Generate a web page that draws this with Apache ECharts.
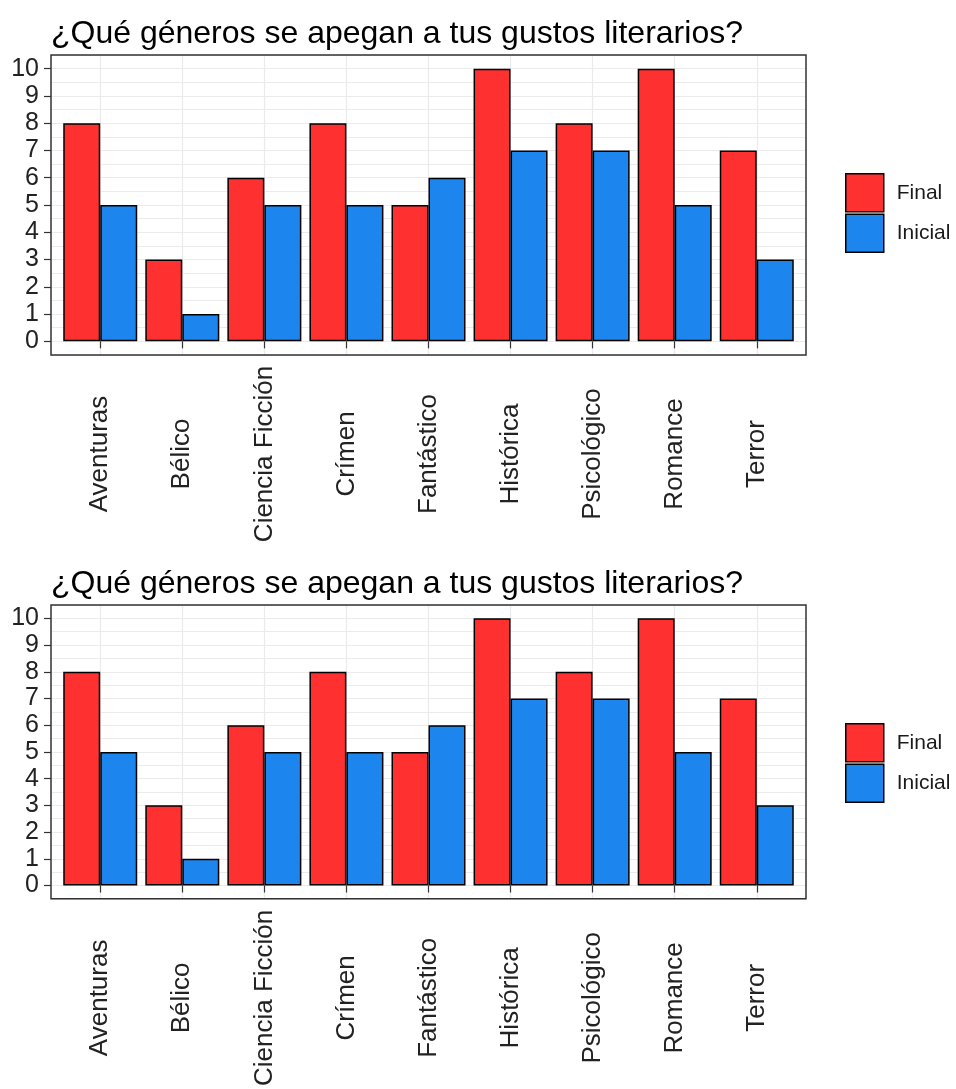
<!DOCTYPE html>
<html>
<head>
<meta charset="utf-8">
<script src="https://cdn.jsdelivr.net/npm/echarts@6/dist/echarts.min.js"></script>
<style>
html,body{margin:0;padding:0;background:#fff;}
#c{width:956px;height:1089px;}
</style>
</head>
<body>
<div id="c"></div>
<script>
// ---- data ----
const titleText = '¿Qué géneros se apegan a tus gustos literarios?';
const categories = ['Aventuras','Bélico','Ciencia Ficción','Crímen','Fantástico','Histórica','Psicológico','Romance','Terror'];
const finalValues = [8,3,6,8,5,10,8,10,7];
const inicialValues = [5,1,5,5,6,7,7,5,3];
const yTicks = [0,1,2,3,4,5,6,7,8,9,10];
const seriesNames = ['Final','Inicial'];

const FONT = 'Liberation Sans, Arial, sans-serif';
const RED = '#FF3030', BLUE = '#1C86EE';
const catIdx = categories.map((c,i)=>i);

const chart = echarts.init(document.getElementById('c'), null, {renderer:'canvas'});

const panelTops = [55, 605];
const grids = [], xAxes = [], yAxes = [], series = [], titles = [], legends = [];

panelTops.forEach((top, p) => {
  grids.push({left:51, top:top, width:755, height:300, show:true, z:10, borderColor:'#333333', borderWidth:1.5, backgroundColor:'transparent', containLabel:false});
  titles.push({text:titleText, left:51, top:top-37, padding:0,
    textStyle:{fontFamily:FONT, fontSize:32, fontWeight:'normal', color:'#000'}});
  legends.push({orient:'vertical', left:845, top:top+118, padding:0, itemWidth:38, itemHeight:38, itemGap:1,
    icon:'rect', data:seriesNames,
    itemStyle:{borderColor:'#000', borderWidth:1.5},
    textStyle:{fontFamily:FONT, fontSize:21, color:'#1a1a1a', padding:[0,0,0,8]}});
  xAxes.push({type:'value', gridIndex:p, min:-0.6, max:8.6, splitNumber:9, minInterval:1, maxInterval:1,
    axisLine:{show:false},
    axisTick:{show:true, length:7, customValues:catIdx, lineStyle:{color:'#333', width:1.2}},
    splitLine:{show:true, lineStyle:{color:'#EBEBEB', width:1.2}},
    axisLabel:{show:true, customValues:catIdx, rotate:90, align:'center', verticalAlign:'middle', margin:99,
      fontFamily:FONT, fontSize:26, color:'#222',
      formatter:(v)=> (Number.isInteger(v) && categories[v]!==undefined) ? categories[v] : ''}});
  // gridline axis (every 0.5)
  yAxes.push({type:'value', gridIndex:p, min:-0.5, max:10.5, interval:0.5, position:'left',
    axisLine:{show:false}, axisTick:{show:false}, axisLabel:{show:false},
    splitLine:{show:true, lineStyle:{color:'#EBEBEB', width:1.2}}});
  // label axis
  yAxes.push({type:'value', gridIndex:p, min:-0.5, max:10.5, interval:0.5, position:'left', offset:0,
    axisLine:{show:false}, splitLine:{show:false},
    axisTick:{show:true, length:7, customValues:yTicks, lineStyle:{color:'#333', width:1.2}},
    axisLabel:{show:true, customValues:yTicks, margin:12, fontFamily:FONT, fontSize:25, color:'#222',
      formatter:(v)=> Number.isInteger(v) ? String(v) : ''}});
  [[finalValues, RED, 'Final'], [inicialValues, BLUE, 'Inicial']].forEach(([vals, col, name]) => {
    series.push({type:'bar', name:name, xAxisIndex:p, yAxisIndex:p*2,
      data: categories.map((c,i)=>[i, vals[i]]),
      barWidth:37, barGap:'0%',
      itemStyle:{color:col, borderColor:'#000', borderWidth:1.5},
      emphasis:{disabled:true}, animation:false});
  });
});

chart.setOption({
  animation:false,
  backgroundColor:'#fff',
  title:titles, legend:legends, grid:grids, xAxis:xAxes, yAxis:yAxes, series:series
});
</script>
</body>
</html>
